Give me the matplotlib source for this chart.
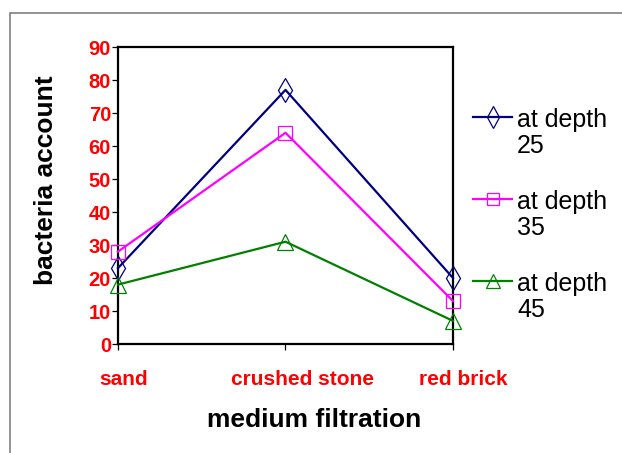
import matplotlib
matplotlib.use('Agg')
import matplotlib.pyplot as plt
import matplotlib.transforms as mtransforms
from matplotlib.patches import Rectangle

categories = ['sand', 'crushed stone', 'red brick']
depth25 = [23, 77, 20]
depth35 = [28, 64, 13]
depth45 = [18, 31, 7]
seriesNames = ['at depth\n25', 'at depth\n35', 'at depth\n45']
yTicks = [0, 10, 20, 30, 40, 50, 60, 70, 80, 90]

plt.rcParams['font.family'] = ['Liberation Sans', 'DejaVu Sans']

fig = plt.figure(figsize=(6.22, 4.53), dpi=100)
ax = fig.add_axes([0.1897, 0.2406, 0.5386, 0.6556])

# grey outer chart border, running off the right and bottom edges
fig.patches.append(Rectangle((10 / 622, -0.1), 1.0, (453 - 13) / 453 + 0.1,
                             transform=fig.transFigure, fill=False,
                             edgecolor='#808080', linewidth=1.2))

x = list(range(len(categories)))
styles = [
    (depth25, '#000080', 'd', 12),
    (depth35, '#FF00FF', 's', 10),
    (depth45, '#008000', '^', 11),
]
for values, color, marker, size in styles:
    ax.plot(x, values, color=color, linewidth=1.6, marker=marker,
            markersize=size, markerfacecolor='none', markeredgecolor=color,
            markeredgewidth=0.9, clip_on=False, zorder=3)

ax.set_xlim(0, 2)
ax.set_ylim(0, 90)
ax.set_yticks(yTicks)
ax.set_xticks(x)
ax.set_xticklabels(categories)

for side in ['left', 'right', 'top', 'bottom']:
    ax.spines[side].set_linewidth(1.6)
    ax.spines[side].set_color('black')

ax.tick_params(axis='y', direction='out', length=4, width=0.9, pad=1,
               labelsize=14.5, labelcolor='red')
ax.tick_params(axis='x', direction='out', length=4, width=0.9, pad=15,
               labelsize=15, labelcolor='red')
for lbl in ax.get_yticklabels() + ax.get_xticklabels():
    lbl.set_fontweight('bold')

# Excel pushes the category labels a little to the right
xOffsets = [6, 17, 10]
for lbl, dx in zip(ax.get_xticklabels(), xOffsets):
    lbl.set_transform(lbl.get_transform() +
                      mtransforms.ScaledTranslation(dx / 100, 0, fig.dpi_scale_trans))

ax.set_xlabel('medium filtration', fontsize=19, fontweight='bold')
ax.xaxis.set_label_coords(0.585, -0.215)
ax.set_ylabel('bacteria account', fontsize=19, fontweight='bold')
ax.yaxis.set_label_coords(-0.178, 0.552)

# legend drawn by hand so the handle sits on the first text line
legendY = [0.764, 0.488, 0.212]
for (values, color, marker, size), name, ly in zip(styles, seriesNames, legendY):
    ax.plot([1.0597, 1.118, 1.176], [ly, ly, ly], transform=ax.transAxes,
            color=color, linewidth=1.6, marker=marker, markevery=[1],
            markersize=size - 1, markerfacecolor='none', markeredgecolor=color,
            markeredgewidth=0.9, clip_on=False)
    ax.text(1.191, ly + 0.03, name, transform=ax.transAxes, fontsize=18,
            va='top', ha='left', linespacing=1.12)

fig.savefig('out.png', dpi=100)
